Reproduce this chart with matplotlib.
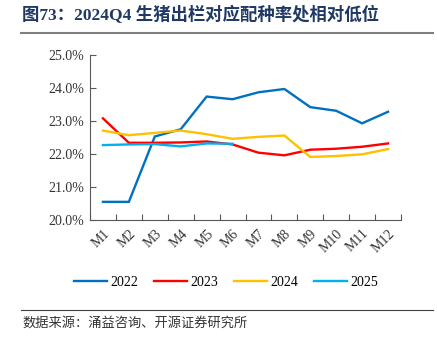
import matplotlib
matplotlib.use("Agg")
import matplotlib.pyplot as plt
from matplotlib.lines import Line2D
import numpy as np

months = ["M1", "M2", "M3", "M4", "M5", "M6", "M7", "M8", "M9", "M10", "M11", "M12"]
s2022 = [20.55, 20.55, 22.53, 22.75, 23.74, 23.66, 23.87, 23.97, 23.42, 23.31, 22.93, 23.28]
s2023 = [23.08, 22.34, 22.34, 22.35, 22.38, 22.29, 22.04, 21.96, 22.13, 22.16, 22.22, 22.32]
s2024 = [22.71, 22.57, 22.64, 22.71, 22.60, 22.46, 22.52, 22.56, 21.91, 21.94, 21.99, 22.15]
s2025 = [22.27, 22.29, 22.30, 22.23, 22.32, 22.31]
series_names = ["2022", "2023", "2024", "2025"]
colors = ["#0070C0", "#FF0000", "#FFC000", "#00B0F0"]
yticks = [20.0, 21.0, 22.0, 23.0, 24.0, 25.0]

serif_cjk = ["Liberation Serif", "Noto Sans CJK SC"]

fig = plt.figure(figsize=(4.37, 3.52), dpi=100)
ax = fig.add_axes([90/437, 1-220/352, 311/437, 165/352])

x = np.arange(len(months))
data = [s2022, s2023, s2024, s2025]
for vals, c, n in zip(data, colors, series_names):
    ax.plot(x[:len(vals)], vals, color=c, lw=1.7, label=n, solid_joinstyle="miter")

ax.set_xlim(-0.5, len(months) - 0.5)
ax.set_ylim(20, 25)
ax.set_yticks(yticks)
ax.set_yticklabels([f"{v:.1f}%" for v in yticks], family="Liberation Serif", fontsize=10, color="#333333")
ax.set_xticks(x)
ax.set_xticklabels(months, rotation=45, family="Liberation Serif", fontsize=10, color="#333333",
                   ha="right", va="top", rotation_mode="anchor")
ax.set_xticks(np.arange(-0.5, len(months)), minor=True)
ax.tick_params(axis="x", which="major", length=0, pad=5)
ax.tick_params(axis="x", which="minor", direction="in", length=4, color="#595959", width=0.8)
ax.tick_params(axis="y", direction="in", length=4, color="#595959", width=0.8, pad=4)
for s in ["top", "right"]:
    ax.spines[s].set_visible(False)
for s in ["left", "bottom"]:
    ax.spines[s].set_color("#595959")
    ax.spines[s].set_linewidth(0.8)

handles = [Line2D([0], [0], color=c, lw=1.7) for c in colors]
fig.legend(handles, series_names, loc="center", bbox_to_anchor=(226/437, 1-282/352), ncol=4,
           frameon=False, prop={"family": "Liberation Serif", "size": 10},
           handlelength=2.4, handletextpad=0.25, columnspacing=1.1)

# Title and decoration
fig.text(22/437, 1-15/352, "图73：2024Q4 生猪出栏对应配种率处相对低位", family=serif_cjk,
         fontsize=12.5, fontweight="bold", color="#1F3864", ha="left", va="center")
fig.add_artist(Line2D([21/437, 433/437], [1-33/352, 1-33/352], color="#808080", lw=1.5))
fig.add_artist(Line2D([21/437, 433/437], [1-310/352, 1-310/352], color="#404040", lw=0.8))
fig.text(22/437, 1-323/352, "数据来源：涌益咨询、开源证券研究所", family=["Noto Sans CJK SC"],
         fontsize=9.5, color="#333333", ha="left", va="center")

fig.savefig("out.png", dpi=100)
